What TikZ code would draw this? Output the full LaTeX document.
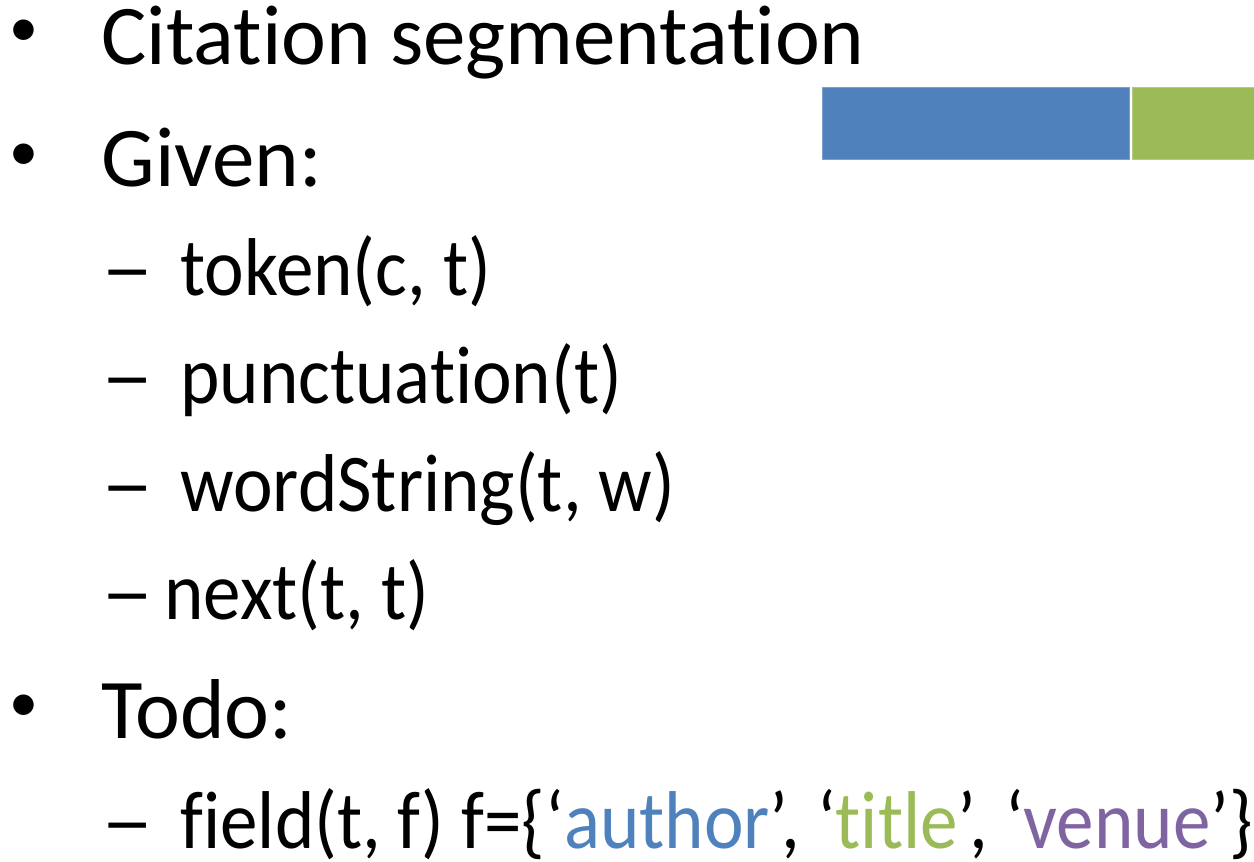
\documentclass[tikz,border=0pt]{standalone}
\usepackage{fontspec}
\setmainfont{Carlito}[Ligatures={TeX,NoCommon}]
\newfontfamily\condfont{Carlito}[Ligatures={TeX,NoCommon}, FakeStretch=0.915]
\definecolor{authorblue}{HTML}{4F81BD}
\definecolor{titlegreen}{HTML}{9BBB59}
\definecolor{venuepurple}{HTML}{8064A2}
\tikzset{
  item/.style={anchor=base west, inner sep=0pt, font=\fontsize{42.5}{50}\selectfont},
  subitem/.style={anchor=base west, inner sep=0pt, font=\fontsize{41}{49}\condfont},
  dot/.style={anchor=center, inner sep=0pt, font=\fontsize{29}{34}\selectfont},
  seg/.style={anchor=north west, inner sep=0pt, minimum height=36pt,
    draw=#1!75!white, line width=0.6pt, fill=#1}
}
\newcommand\dashmark{\scalebox{1.4}[1]{--}}
\begin{document}
\begin{tikzpicture}[x=0.5pt,y=-0.5pt]
  \useasboundingbox (0,0) rectangle (1254,862);
  % segments
  \node[seg=authorblue, minimum width=153.5pt] (blueseg) at (822,87) {};
  \node[seg=titlegreen, minimum width=61pt] (greenseg) at (1132,87) {};
  % first level
  \node[dot] (b1) at (24,33) {\textbullet};
  \node[item] (citation) at (101,64) {Citation segmentation};
  \node[dot] (b2) at (24,157) {\textbullet};
  \node[item] (given) at (101,186) {Given:};
  \node[dot] (b3) at (24,708) {\textbullet};
  \node[item] (todo) at (101,738) {Todo:};
  % second level
  \node[subitem] (d1) at (101,295) {\dashmark};
  \node[subitem] (token) at (180,295) {token(c, t)};
  \node[subitem] (d2) at (101,403) {\dashmark};
  \node[subitem] (punct) at (180,403) {punctuation(t)};
  \node[subitem] (d3) at (101,511) {\dashmark};
  \node[subitem] (wordstr) at (180,511) {wordString(t, w)};
  \node[subitem] (d4) at (101,619) {\dashmark};
  \node[subitem] (next) at (164,619) {next(t, t)};
  \node[subitem] (d5) at (101,848) {\dashmark};
  \node[subitem] (field) at (180,848) {field(t, f) f=\{`\textcolor{authorblue}{author}', `\textcolor{titlegreen}{title}', `\textcolor{venuepurple}{venue}'\}};
\end{tikzpicture}
\end{document}
